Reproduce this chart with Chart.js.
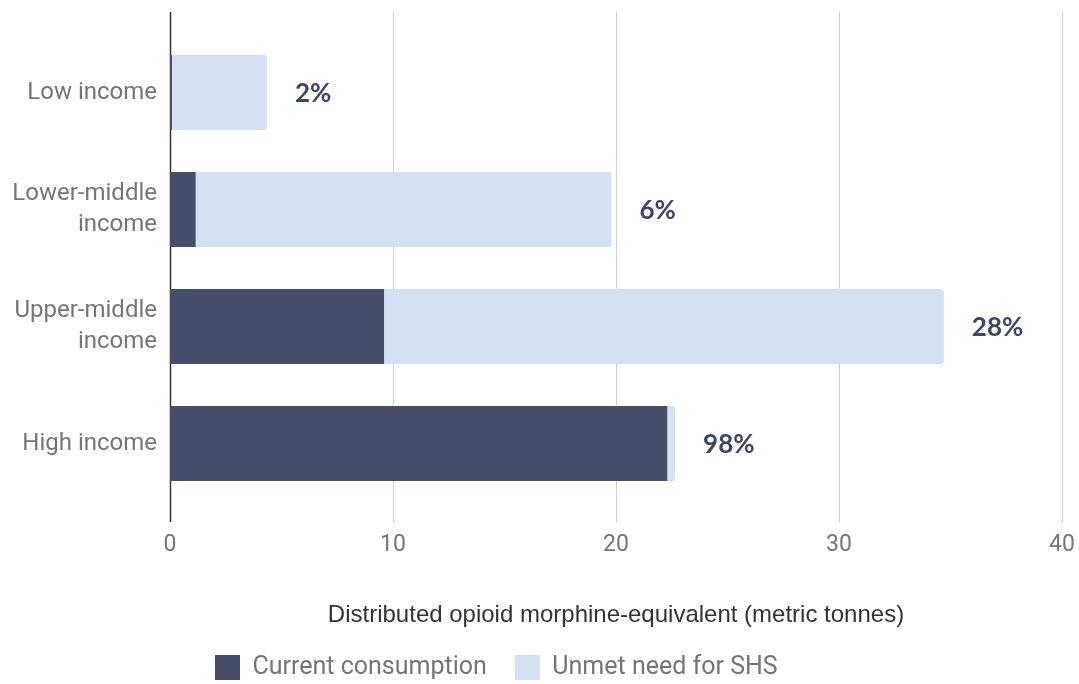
<!DOCTYPE html>
<html>
<head>
<meta charset="utf-8">
<script src="https://cdn.jsdelivr.net/npm/chart.js@4/dist/chart.umd.min.js"></script>
<style>
  html, body { margin: 0; padding: 0; background: #fff; }
  #wrap { width: 1079px; height: 684px; }
</style>
</head>
<body>
<div id="wrap"><canvas id="opioid-gap"></canvas></div>
<script>
// income groups, metric tonnes
var groups = ['Low income', ['Lower-middle', 'income'], ['Upper-middle', 'income'], 'High income'];
var current = [0.09, 1.15, 9.6, 22.3];
var unmet = [4.26, 18.65, 25.1, 0.35];
var xTicks = [0, 10, 20, 30, 40];

var dark = '#464e6b';
var light = '#d5e1f2';
var grey = '#757575';

// share of need that is met, written after each bar
var shareLabels = {
  id: 'shareLabels',
  afterDatasetsDraw: function(chart) {
    var ctx = chart.ctx;
    var meta = chart.getDatasetMeta(1);
    ctx.save();
    ctx.font = 'bold 26px Lato';
    ctx.fillStyle = '#3f4566';
    ctx.textBaseline = 'middle';
    meta.data.forEach(function(bar, i) {
      var pct = Math.round(current[i] / (current[i] + unmet[i]) * 100);
      ctx.fillText(pct + '%', bar.x + 28, bar.y + 1);
    });
    ctx.restore();
  }
};

// vertical grid, running a little past the plot area top and bottom
var grid = {
  id: 'grid',
  beforeDatasetsDraw: function(chart) {
    var ctx = chart.ctx, area = chart.chartArea, x = chart.scales.x;
    ctx.save();
    xTicks.forEach(function(v) {
      var px = Math.round(x.getPixelForValue(v)) + 0.5;
      ctx.beginPath();
      ctx.strokeStyle = v === 0 ? '#333' : '#d0d0d0';
      ctx.lineWidth = v === 0 ? 1.5 : 1;
      ctx.moveTo(px, area.top - 22);
      ctx.lineTo(px, area.bottom + 20);
      ctx.stroke();
    });
    ctx.restore();
  }
};

// move the legend row to the left
var legendShift = {
  id: 'legendShift',
  afterLayout: function(chart) {
    chart.legend.left += 187;
    chart.legend.right += 187;
  }
};

var ctx = document.getElementById('opioid-gap').getContext('2d');
var chart = new Chart(ctx, {
  type: 'bar',
  data: {
    labels: groups,
    datasets: [{
      label: 'Current consumption',
      data: current,
      backgroundColor: dark,
      categoryPercentage: 1,
      barPercentage: 0.64
    }, {
      label: 'Unmet need for SHS',
      data: unmet,
      backgroundColor: light,
      borderRadius: 3,
      borderSkipped: 'start',
      categoryPercentage: 1,
      barPercentage: 0.64
    }]
  },
  options: {
    indexAxis: 'y',
    responsive: true,
    maintainAspectRatio: false,
    animation: false,
    layout: { padding: { top: 34, right: 17, bottom: -6, left: 0 } },
    scales: {
      x: {
        stacked: true,
        min: 0,
        max: 40,
        afterBuildTicks: function(s) { s.ticks = xTicks.map(function(v) { return { value: v }; }); },
        afterFit: function(s) { s.height = 125; },
        // gap under the plot comes from the (hidden) tick length
        grid: { display: false, drawTicks: true, tickLength: 29 },
        border: { display: false },
        ticks: { color: grey, font: { family: 'Roboto', size: 23 }, padding: 0 },
        title: {
          display: true,
          text: 'Distributed opioid morphine-equivalent (metric tonnes)',
          color: '#333',
          font: { family: 'Liberation Sans', size: 24, lineHeight: 1 },
          padding: { top: 0, bottom: 0 }
        }
      },
      y: {
        stacked: true,
        afterFit: function(s) { s.width = 170; },
        grid: { display: false, drawTicks: false },
        border: { display: false },
        ticks: { color: grey, font: { family: 'Roboto', size: 24, lineHeight: 1.3 }, padding: 13 }
      }
    },
    plugins: {
      legend: {
        position: 'bottom',
        align: 'start',
        labels: {
          color: grey,
          font: { family: 'Roboto', size: 25 },
          boxWidth: 25,
          boxHeight: 25,
          padding: 28
        }
      },
      tooltip: { enabled: false }
    }
  },
  plugins: [grid, shareLabels, legendShift]
});
</script>
</body>
</html>
